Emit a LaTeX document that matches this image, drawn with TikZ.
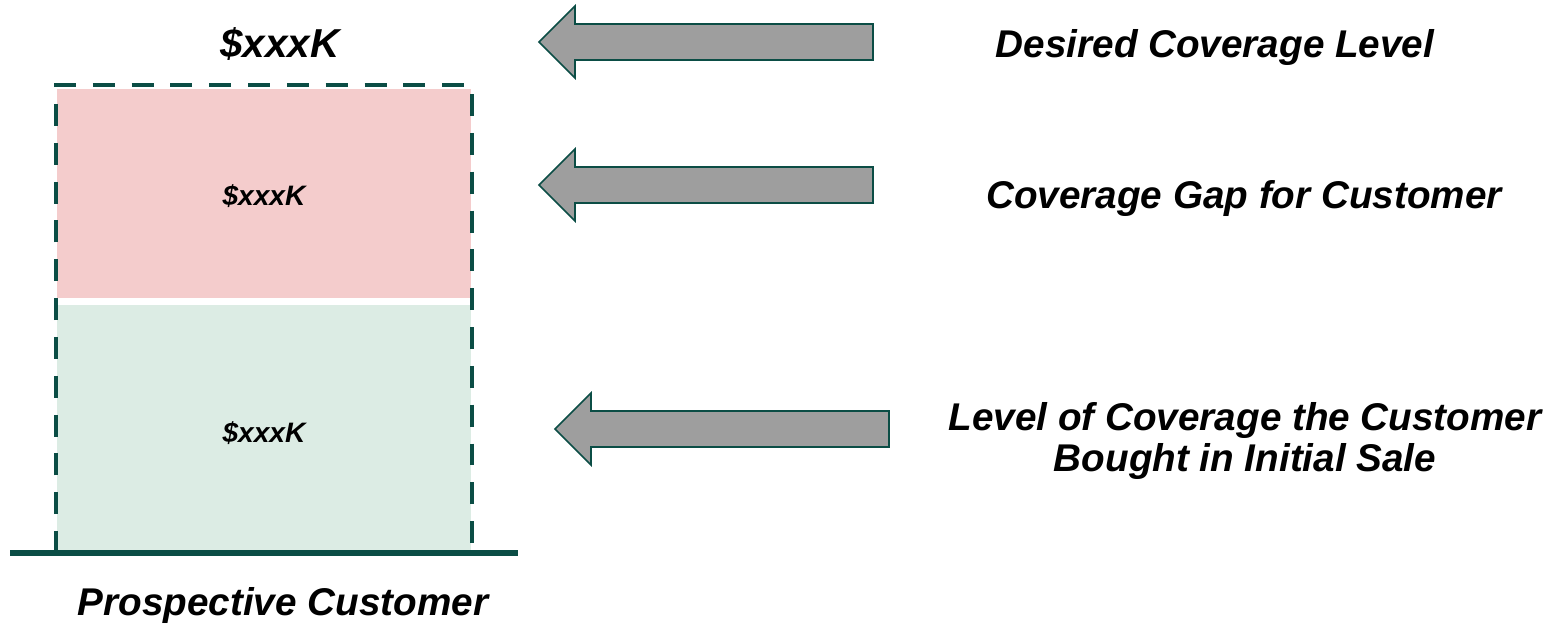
\documentclass[tikz,border=0pt]{standalone}
\usepackage{fontspec}
\setmainfont{Liberation Sans}
\usetikzlibrary{positioning}

\definecolor{teal}{HTML}{0B4D45}
\definecolor{gapred}{HTML}{F4CCCC}
\definecolor{boughtgreen}{HTML}{DCECE4}
\definecolor{arrowgray}{HTML}{9E9E9E}

% block arrow pointing left: tip x, tip y, tail x
\newcommand{\leftblock}[3]{%
  \draw[blockarrow] (#1,#2) -- (#1+36,#2-36) -- (#1+36,#2-18) -- (#3,#2-18)
    -- (#3,#2+18) -- (#1+36,#2+18) -- (#1+36,#2+36) -- cycle;}

\begin{document}
\begin{tikzpicture}[x=0.02cm, y=-0.02cm,
  label/.style={font=\fontsize{22}{23}\selectfont\bfseries\itshape, align=center},
  amount/.style={font=\fontsize{16}{18}\selectfont\bfseries\itshape},
  blockarrow/.style={draw=teal, fill=arrowgray, line width=0.9pt, line join=miter},
  dashedside/.style={draw=teal, line width=1.9pt, dash pattern=on 12.5pt off 9.6pt}]
\useasboundingbox (0,0) rectangle (1559,641);

  % stacked coverage
  \fill[gapred] (57,89) rectangle (471,298);
  \fill[boughtgreen] (57,305) rectangle (471,553);
  \draw[dashedside] (56,553) -- (56,85) -- (472,85) -- (472,553);
  \draw[teal, line width=3pt] (10,553) -- (518,553);

  \node[amount] (gapamt) at (264,196) {\$xxxK};
  \node[amount] (boughtamt) at (264,433) {\$xxxK};
  \node[font=\fontsize{23}{25}\selectfont\bfseries\itshape] (desiredamt) at (280,44) {\$xxxK};
  \node[label] (customer) at (283,606) {Prospective Customer};

  % arrows
  \leftblock{539}{42}{873}
  \leftblock{539}{185}{873}
  \leftblock{555}{429}{889}

  % descriptions
  \node[label] (desired) at (1215,48) {Desired Coverage Level};
  \node[label] (gap) at (1244,199) {Coverage Gap for Customer};
  \node[label] (bought) at (1245,441) {Level of Coverage the Customer\\Bought in Initial Sale};
\end{tikzpicture}
\end{document}
